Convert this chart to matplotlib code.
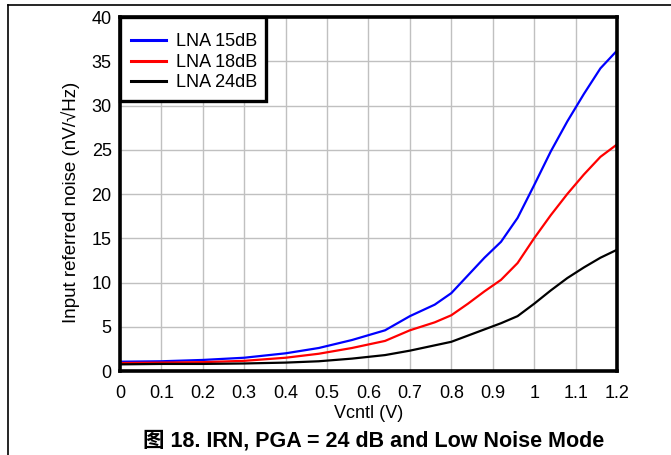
import matplotlib
matplotlib.use("Agg")
import matplotlib.pyplot as plt
from matplotlib.lines import Line2D
from matplotlib.patches import Rectangle

plt.rcParams["font.family"] = ["Liberation Sans", "Noto Sans CJK SC", "DejaVu Sans"]

vcntl = [0, 0.1, 0.2, 0.3, 0.4, 0.48, 0.56, 0.64, 0.7, 0.76, 0.8, 0.84, 0.88,
         0.92, 0.96, 1.0, 1.04, 1.08, 1.12, 1.16, 1.2]
lna_15 = [1.05, 1.1, 1.25, 1.5, 2.0, 2.6, 3.5, 4.6, 6.2, 7.5, 8.8, 10.8, 12.8,
          14.6, 17.3, 21.0, 24.8, 28.2, 31.3, 34.2, 36.2]
lna_18 = [0.9, 0.95, 1.0, 1.15, 1.5, 1.95, 2.6, 3.4, 4.6, 5.5, 6.3, 7.6, 9.0,
          10.3, 12.2, 15.0, 17.6, 20.0, 22.2, 24.2, 25.6]
lna_24 = [0.75, 0.8, 0.8, 0.85, 0.95, 1.1, 1.4, 1.8, 2.3, 2.9, 3.3, 4.0, 4.7,
          5.4, 6.2, 7.6, 9.1, 10.5, 11.7, 12.8, 13.7]

x_ticks = [0, 0.1, 0.2, 0.3, 0.4, 0.5, 0.6, 0.7, 0.8, 0.9, 1, 1.1, 1.2]
x_labels = ["0", "0.1", "0.2", "0.3", "0.4", "0.5", "0.6", "0.7", "0.8", "0.9", "1", "1.1", "1.2"]
y_ticks = [0, 5, 10, 15, 20, 25, 30, 35, 40]

fig = plt.figure(figsize=(6.71, 4.55), dpi=100)
ax = fig.add_axes([0.1788, 0.1846, 0.7407, 0.778])

ax.plot(vcntl, lna_15, color="#0000ff", lw=1.6, label="LNA 15dB")
ax.plot(vcntl, lna_18, color="#ff0000", lw=1.6, label="LNA 18dB")
ax.plot(vcntl, lna_24, color="#000000", lw=1.6, label="LNA 24dB")

ax.set_xlim(0, 1.2)
ax.set_ylim(0, 40)
ax.set_xticks(x_ticks)
ax.set_xticklabels(x_labels)
ax.set_yticks(y_ticks)
ax.tick_params(length=0, labelsize=13)
ax.tick_params(axis="x", pad=10)
ax.tick_params(axis="y", pad=6)
ax.grid(True, color="#c0c0c0", lw=1.0)
ax.set_axisbelow(True)
for s in ax.spines.values():
    s.set_linewidth(2.6)

ax.set_xlabel("Vcntl (V)", fontsize=13, labelpad=2)
ax.set_ylabel("Input referred noise (nV/\u221aHz)", fontsize=13.5)
ax.yaxis.set_label_coords(-0.08, 0.475)

# legend box drawn separately so padding can be uneven
ax.add_patch(Rectangle((0, 0.7627), 0.2938, 0.2373, transform=ax.transAxes,
                       facecolor="white", edgecolor="black", lw=2.4,
                       zorder=4, clip_on=False))
leg = ax.legend(loc="upper left", bbox_to_anchor=(-0.01, 1.0), fontsize=13,
                frameon=False, borderaxespad=0, handlelength=1.95,
                handletextpad=0.55, borderpad=0.9, labelspacing=0.2)
leg.set_zorder(5)
for h in leg.get_lines():
    h.set_linewidth(2.2)

fig.text(0.557, 0.03, "图 18. IRN, PGA = 24 dB and Low Noise Mode",
         ha="center", va="center", fontsize=15.5, fontweight="bold")

# page frame (top and left)
fig.add_artist(Line2D([0.012, 1.0], [0.99, 0.99], color="black", lw=1.2))
fig.add_artist(Line2D([0.012, 0.012], [0.0, 0.99], color="black", lw=1.2))

fig.savefig("out.png", dpi=100)
plt.close(fig)
